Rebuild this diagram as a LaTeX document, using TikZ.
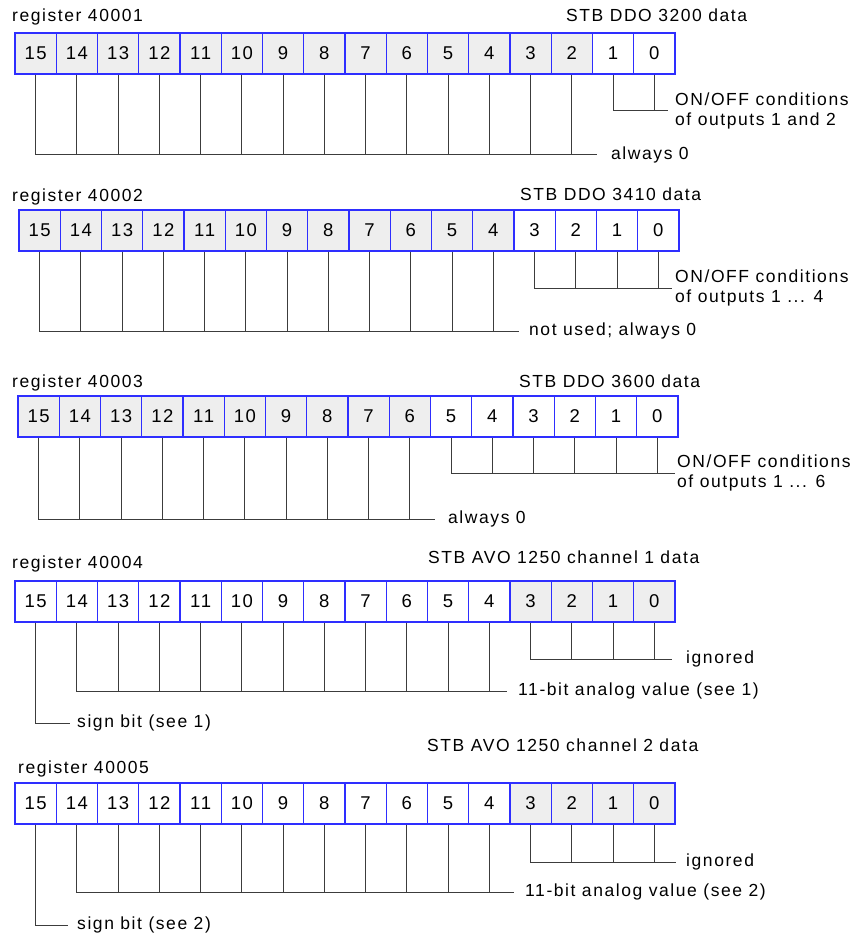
\documentclass[tikz,border=0pt]{standalone}
\usepackage{fontspec}
\setmainfont{Liberation Sans}[LetterSpace=9]
\usetikzlibrary{positioning}
\definecolor{regBlue}{HTML}{2E2EFF}
\definecolor{regGrey}{HTML}{EEEEEE}
\definecolor{regLine}{HTML}{3C3C3C}

\begin{document}
\begin{tikzpicture}[x=1pt,y=-1pt,every node/.style={inner sep=0pt},
  bit/.style={draw=regBlue,line width=1.2pt,minimum width=41.25pt,minimum height=41pt,font=\fontsize{18.5}{18.5}\selectfont},
  greybit/.style={bit,fill=regGrey},
  title/.style={anchor=base west,font=\fontsize{17.5}{20}\selectfont},
  note/.style={anchor=west,align=left,font=\fontsize{17.5}{20.5}\selectfont},
  conn/.style={regLine,line width=1pt}]
  \useasboundingbox[fill=white] (0,0) rectangle (864,933);
  % register cells: row/left edge/centre y/lowest grey bit/highest grey bit
  \foreach \r/\xo/\cy/\lo/\hi in {a/15/53.5/2/15, b/19/230.5/4/15, c/18/416.5/6/15, d/15/601.5/0/3, e/15/803.5/0/3}{
    \foreach \b in {0,...,15}{
      \ifnum\b<\lo \def\sty{bit}\else\ifnum\b>\hi \def\sty{bit}\else\def\sty{greybit}\fi\fi
      \node[\sty] (\r\b) at ({\xo+(15.5-\b)*41.25},\cy) {\b};}}
  % headings
  \node[title] (aname) at (12,22) {register 40001};
  \node[title] (adata) at (566,22) {STB DDO 3200 data};
  \node[title] (bname) at (12,202) {register 40002};
  \node[title] (bdata) at (520,201) {STB DDO 3410 data};
  \node[title] (cname) at (12,387) {register 40003};
  \node[title] (cdata) at (519,387) {STB DDO 3600 data};
  \node[title] (dname) at (12,568) {register 40004};
  \node[title] (ddata) at (428,563) {STB AVO 1250 channel 1 data};
  \node[title] (ename) at (18,773) {register 40005};
  \node[title] (edata) at (427,751) {STB AVO 1250 channel 2 data};
  % register 40001
  \coordinate (abus) at (597,155);
  \node[note] (azero) at (611,155) {always 0};
  \foreach \b in {15,...,2} \draw[conn] (a\b.south) |- (abus);
  \coordinate (aout) at (668,111);
  \node[note] (aonoff) at (675,111) {ON/OFF conditions\\of outputs 1 and 2};
  \foreach \b in {1,0} \draw[conn] (a\b.south) |- (aout);
  % register 40002
  \coordinate (bbus) at (519,331);
  \node[note] (bzero) at (529,331) {not used; always 0};
  \foreach \b in {15,...,4} \draw[conn] (b\b.south) |- (bbus);
  \coordinate (bout) at (672,288);
  \node[note] (bonoff) at (675,288) {ON/OFF conditions\\of outputs 1 ... 4};
  \foreach \b in {3,...,0} \draw[conn] (b\b.south) |- (bout);
  % register 40003
  \coordinate (cbus) at (435,519);
  \node[note] (czero) at (448,519) {always 0};
  \foreach \b in {15,...,6} \draw[conn] (c\b.south) |- (cbus);
  \coordinate (cout) at (675,473);
  \node[note] (conoff) at (677,473) {ON/OFF conditions\\of outputs 1 ... 6};
  \foreach \b in {5,...,0} \draw[conn] (c\b.south) |- (cout);
  % register 40004
  \coordinate (dsign) at (70,723);
  \node[note] (dsigntxt) at (77,723) {sign bit (see 1)};
  \draw[conn] (d15.south) |- (dsign);
  \coordinate (dbus) at (507,691);
  \node[note] (dvalue) at (518,691) {11-bit analog value (see 1)};
  \foreach \b in {14,...,4} \draw[conn] (d\b.south) |- (dbus);
  \coordinate (dign) at (672,659);
  \node[note] (dignored) at (686,659) {ignored};
  \foreach \b in {3,...,0} \draw[conn] (d\b.south) |- (dign);
  % register 40005
  \coordinate (esign) at (68,925);
  \node[note] (esigntxt) at (77,925) {sign bit (see 2)};
  \draw[conn] (e15.south) |- (esign);
  \coordinate (ebus) at (514,892);
  \node[note] (evalue) at (525,892) {11-bit analog value (see 2)};
  \foreach \b in {14,...,4} \draw[conn] (e\b.south) |- (ebus);
  \coordinate (eign) at (676,862);
  \node[note] (eignored) at (686,862) {ignored};
  \foreach \b in {3,...,0} \draw[conn] (e\b.south) |- (eign);
\end{tikzpicture}
\end{document}
